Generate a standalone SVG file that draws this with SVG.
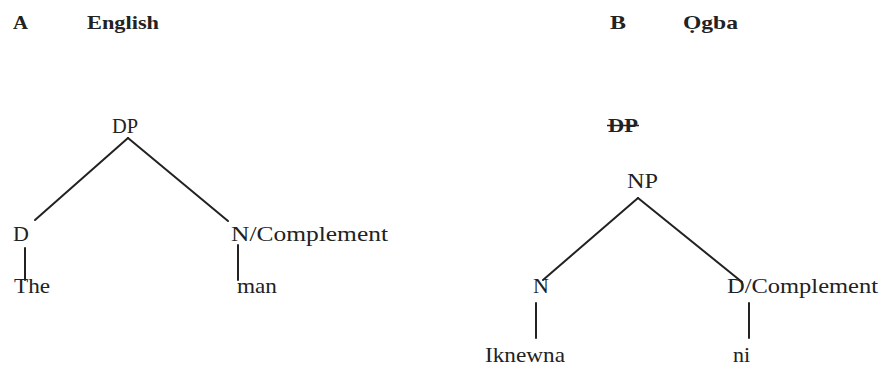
<svg xmlns="http://www.w3.org/2000/svg" width="881" height="376" viewBox="0 0 881 376">
<style>
text{font-family:"Liberation Serif","Times New Roman",serif;fill:#222}
.h{font-weight:bold;font-size:19px}
.n{font-size:22px}
.e line{stroke:#222;stroke-width:2;stroke-linecap:round}
</style>
<rect width="881" height="376" fill="#fff"/>
<g id="headA"><text class="h" x="13" y="29" textLength="15" lengthAdjust="spacingAndGlyphs">A</text><text class="h" x="87" y="29" textLength="72" lengthAdjust="spacingAndGlyphs">English</text></g>
<g id="headB"><text class="h" x="610" y="29" textLength="16" lengthAdjust="spacingAndGlyphs">B</text><text class="h" x="683" y="29" textLength="55" lengthAdjust="spacingAndGlyphs">Ọgba</text></g>
<g id="DP1"><text class="n" x="112" y="133" textLength="26" lengthAdjust="spacingAndGlyphs">DP</text></g>
<g id="D1"><text class="n" x="13" y="241">D</text></g>
<g id="N1"><text class="n" x="231" y="241" textLength="157" lengthAdjust="spacingAndGlyphs">N/Complement</text></g>
<g id="The"><text class="n" x="14" y="293" textLength="36" lengthAdjust="spacingAndGlyphs">The</text></g>
<g id="man"><text class="n" x="237" y="293" textLength="40" lengthAdjust="spacingAndGlyphs">man</text></g>
<g id="DP2"><text x="608" y="132" style="font-weight:bold;font-size:19px" textLength="30" lengthAdjust="spacingAndGlyphs">DP</text><line x1="607" y1="125.5" x2="639" y2="125.5" stroke="#222" stroke-width="1.5"/></g>
<g id="NP"><text class="n" x="627" y="188" textLength="31" lengthAdjust="spacingAndGlyphs">NP</text></g>
<g id="N2"><text class="n" x="533" y="293">N</text></g>
<g id="D2"><text class="n" x="727" y="293" textLength="151" lengthAdjust="spacingAndGlyphs">D/Complement</text></g>
<g id="Iknewna"><text class="n" x="485" y="362" textLength="80" lengthAdjust="spacingAndGlyphs">Iknewna</text></g>
<g id="ni"><text class="n" x="733" y="362">ni</text></g>
<g id="edges" class="e">
<line x1="128" y1="138" x2="35" y2="220"/>
<line x1="128" y1="138" x2="228" y2="221"/>
<line x1="25" y1="248" x2="25" y2="280"/>
<line x1="238" y1="245" x2="238" y2="280"/>
<line x1="638" y1="198" x2="543" y2="280"/>
<line x1="638" y1="198" x2="742" y2="282"/>
<line x1="536" y1="303" x2="536" y2="338"/>
<line x1="749" y1="303" x2="749" y2="338"/>
</g>
</svg>
